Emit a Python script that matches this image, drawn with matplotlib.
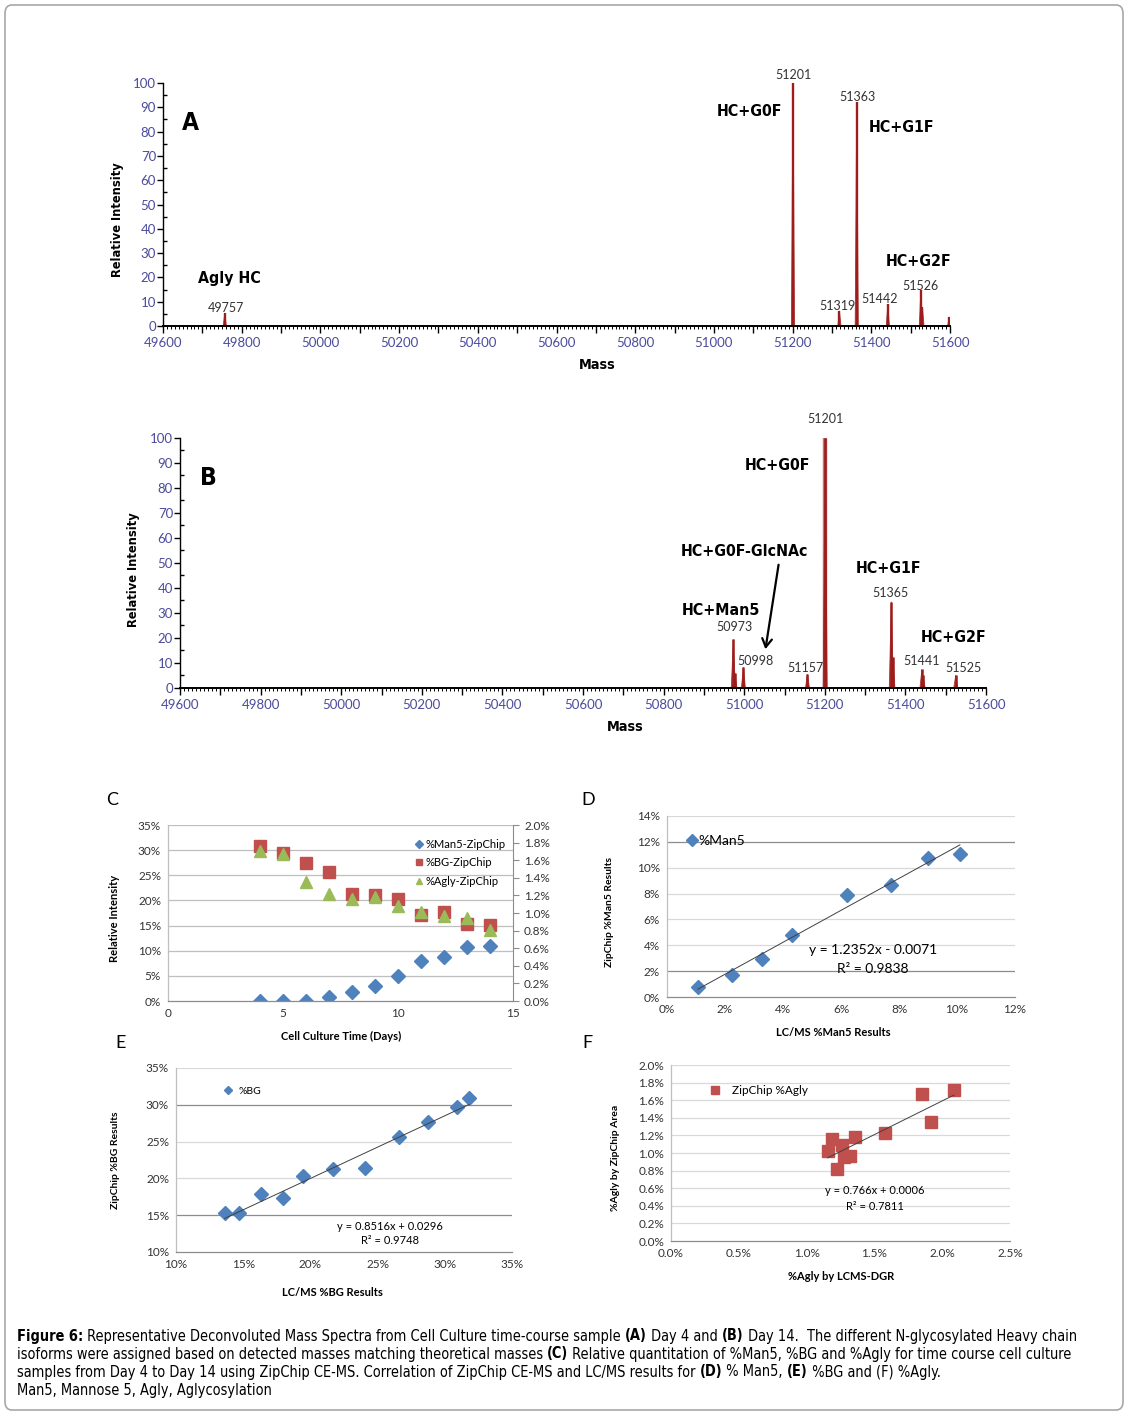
import matplotlib
matplotlib.use("Agg")
import matplotlib.pyplot as plt
from matplotlib import font_manager as fm
from matplotlib.patches import FancyBboxPatch, FancyArrowPatch
from matplotlib.ticker import MultipleLocator, FuncFormatter

# ---------------- data ----------------
# A: deconvoluted spectrum, day 4 (mass, relative intensity)
a_mass = [49757, 51201, 51319, 51363, 51442, 51526, 51530, 51598]
a_int = [5.3, 100, 6.3, 92, 8.9, 14.8, 7.8, 3.8]
a_labels = ["49757", "51201", "51319", "51363", "51442", "51526"]

# B: deconvoluted spectrum, day 14
b_mass = [50973, 50977, 50998, 51157, 51201, 51365, 51369, 51441, 51444, 51525]
b_int = [19.5, 6.1, 8.3, 5.5, 100, 34.5, 12.5, 7.5, 5.0, 5.2]
b_labels = ["50973", "50998", "51157", "51201", "51365", "51441", "51525"]

# C: time course (ZipChip)
days = [4, 5, 6, 7, 8, 9, 10, 11, 12, 13, 14]
man5_zip = [0, 0, 0, 0.86, 1.7, 3.0, 4.9, 7.9, 8.8, 10.8, 11.0]
bg_zip = [30.9, 29.5, 27.4, 25.7, 21.3, 21.0, 20.3, 17.1, 17.7, 15.3, 15.2]
agly_zip = [1.71, 1.67, 1.35, 1.22, 1.16, 1.18, 1.08, 1.01, 0.97, 0.94, 0.81]

# D: %Man5 LC/MS vs ZipChip
d_lcms = [1.06, 2.24, 3.28, 4.31, 6.19, 7.71, 8.99, 10.10]
d_zip = [0.75, 1.67, 2.93, 4.83, 7.92, 8.66, 10.75, 11.05]
d_slope, d_icpt, d_r2 = 1.2352, -0.0071, 0.9838

# E: %BG LC/MS vs ZipChip
e_lcms = [13.62, 14.67, 16.33, 17.94, 19.48, 21.66, 24.04, 26.6, 28.78, 30.89, 31.81]
e_zip = [15.35, 15.35, 17.85, 17.35, 20.39, 21.3, 21.43, 25.65, 27.6, 29.64, 30.96]
e_slope, e_icpt, e_r2 = 0.8516, 0.0296, 0.9748

# F: %Agly LC/MS vs ZipChip
f_lcms = [1.155, 1.19, 1.259, 1.227, 1.273, 1.323, 1.355, 1.581, 1.85, 1.921, 2.086]
f_zip = [1.02, 1.163, 1.087, 0.821, 0.951, 0.966, 1.183, 1.232, 1.669, 1.354, 1.719]
f_slope, f_icpt, f_r2 = 0.766, 0.0006, 0.7811

# ---------------- style ----------------
W, H = 1134, 1421
CAL = ['Lato', 'DejaVu Sans']
plt.rcParams['font.family'] = CAL
PEAK = '#9E1C1C'
TICKC = '#4B4B9B'
BLUE, RED, GREEN = '#4F81BD', '#C0504D', '#9BBB59'

# pick a narrow font if one is installed, otherwise Liberation Sans
_fonts = fm.fontManager.ttflist
_names = {f.name for f in _fonts}
if 'Liberation Sans Narrow' in _names:
    NKW = dict(family=['Liberation Sans Narrow', 'DejaVu Sans'])
elif any(f.name == 'DejaVu Sans' and f.stretch == 'condensed' for f in _fonts):
    NKW = dict(family=['DejaVu Sans'], stretch='condensed')
else:
    NKW = dict(family=['Liberation Sans', 'DejaVu Sans'])

fig = plt.figure(figsize=(W / 100, H / 100), dpi=100)
renderer = fig.canvas.get_renderer()


def rect(x0, y_top, x1, y_bot):
    return [x0 / W, 1 - y_bot / H, (x1 - x0) / W, (y_bot - y_top) / H]


def ftext(x, y, s, **kw):
    kw.setdefault('ha', 'center')
    kw.setdefault('va', 'center')
    return fig.text(x / W, 1 - y / H, s, **kw)


def run_width(s, size, **kw):
    t1 = fig.text(0, 0, '|' + s + '|', fontsize=size, **kw)
    t2 = fig.text(0, 0, '||', fontsize=size, **kw)
    w = t1.get_window_extent(renderer).width - t2.get_window_extent(renderer).width
    t1.remove()
    t2.remove()
    return w


def fit_size(s, target, **kw):
    return 10 * target / run_width(s, 10, **kw)


border = FancyBboxPatch((5 / W, 1 - 1410 / H), 1118 / W, 1405 / H,
                        boxstyle='round,pad=0,rounding_size=0.006',
                        transform=fig.transFigure, fill=False,
                        ec='#A8A8A8', lw=1.2)
fig.add_artist(border)

ANN = fit_size('HC+G0F', 66, weight='bold', **NKW)
MASS = fit_size('Mass', 37, weight='bold', **NKW)
LET = fit_size('A', 17, weight='bold', **NKW)


def spectrum_axes(ax):
    ax.set_xlim(49600, 51600)
    ax.set_ylim(0, 100)
    ax.spines['top'].set_visible(False)
    ax.spines['right'].set_visible(False)
    ax.spines['left'].set_linewidth(1.0)
    ax.spines['bottom'].set_linewidth(1.4)
    ax.xaxis.set_major_locator(MultipleLocator(100))
    ax.xaxis.set_major_formatter(
        FuncFormatter(lambda v, p: f"{v:.0f}" if round(v) % 200 == 0 else ""))
    ax.xaxis.set_minor_locator(MultipleLocator(10))
    ax.yaxis.set_major_locator(MultipleLocator(10))
    ax.yaxis.set_minor_locator(MultipleLocator(5))
    ax.tick_params(axis='x', which='major', direction='out', length=5, width=1,
                   labelcolor=TICKC, labelsize=9.5, pad=3)
    ax.tick_params(axis='x', which='minor', direction='out', length=2.5, width=0.7)
    ax.tick_params(axis='y', which='major', direction='out', length=4, width=1,
                   labelcolor=TICKC, labelsize=9.5, pad=1)
    ax.tick_params(axis='y', which='minor', direction='in', length=3, width=1)


def draw_peaks(ax, mass, inten, half_w, lw):
    for m, h in zip(mass, inten):
        ax.fill([m - half_w, m, m + half_w], [0, h, 0], color=PEAK, lw=0.6, alpha=0.8)
    ax.vlines(mass, 0, inten, color=PEAK, lw=lw)


def bold_n(x, y, s, size=None, **kw):
    return ftext(x, y, s, fontsize=size or ANN, weight='bold', **NKW, **kw)


# ---------------- panel A ----------------
axA = fig.add_axes(rect(163, 83, 950, 326))
spectrum_axes(axA)
draw_peaks(axA, a_mass, a_int, 4, 1.7)
a_lbl_x = [49760, 51201, 51313, 51364, 51420, 51526]
a_lbl_y = [7.4, 103.3, 8.2, 94.2, 11.1, 16.5]
for s, x, y in zip(a_labels, a_lbl_x, a_lbl_y):
    axA.text(x, y, s, ha='center', va='center', fontsize=9, color='#333333', clip_on=False)
bold_n(190, 123, 'A', LET)
bold_n(229, 278, 'Agly HC')
bold_n(750, 111, 'HC+G0F')
bold_n(902, 127, 'HC+G1F')
bold_n(919, 262, 'HC+G2F')
ftext(117, 220, 'Relative Intensity', fontsize=8.3, weight='bold',
      family='DejaVu Sans', rotation=90)
bold_n(597, 365, 'Mass', MASS)

# ---------------- panel B ----------------
axB = fig.add_axes(rect(180, 438, 986, 688))
spectrum_axes(axB)
draw_peaks(axB, b_mass, b_int, 5, 1.8)
axB.vlines([b_mass[4]], 0, [b_int[4]], color=PEAK, lw=3.2, alpha=0.6)
b_lbl_x = [50975, 51029, 51151, 51201, 51364, 51441, 51545]
b_lbl_y = [24.4, 10.8, 8.0, 107.6, 38.0, 10.8, 8.0]
for s, x, y in zip(b_labels, b_lbl_x, b_lbl_y):
    axB.text(x, y, s, ha='center', va='center', fontsize=9, color='#333333', clip_on=False)
bold_n(208, 478, 'B', LET)
bold_n(777, 465, 'HC+G0F')
bold_n(745, 551, 'HC+G0F-GlcNAc')
bold_n(721, 610, 'HC+Man5')
bold_n(889, 569, 'HC+G1F')
bold_n(954, 637, 'HC+G2F')
fig.add_artist(FancyArrowPatch(
    (779 / W, 1 - 562 / H), (765 / W, 1 - 652 / H), transform=fig.transFigure,
    arrowstyle='->,head_length=6,head_width=3.5', lw=1.6, color='black'))
ftext(133, 570, 'Relative Intensity', fontsize=8.3, weight='bold',
      family='DejaVu Sans', rotation=90)
bold_n(625, 727, 'Mass', MASS)


# ---------------- Excel style panels ----------------
def pct(dec):
    return FuncFormatter(lambda v, p: f"{v:.{dec}f}%")


def excel_axes(ax, grid_dark=(), grid_col='#D9D9D9'):
    for s in ['top', 'right']:
        ax.spines[s].set_visible(False)
    ax.spines['left'].set_color('#BFBFBF')
    ax.spines['bottom'].set_color('#8C8C8C')
    ax.spines['left'].set_linewidth(0.9)
    ax.spines['bottom'].set_linewidth(0.9)
    ax.set_axisbelow(True)
    ax.tick_params(axis='both', length=0, labelsize=8.5, labelcolor='#333333', pad=5)
    lo, hi = ax.get_ylim()
    for v in ax.yaxis.get_majorticklocs():
        if v <= lo + 1e-9 or v > hi + 1e-9:
            continue
        col = '#8C8C8C' if any(abs(v - g) < 1e-9 for g in grid_dark) else grid_col
        ax.axhline(v, color=col, lw=0.9, zorder=0)


# C
axC = fig.add_axes(rect(168, 825, 513, 1001))
axC.set_xlim(0, 15)
axC.set_ylim(0, 35)
axC.xaxis.set_major_locator(MultipleLocator(5))
axC.yaxis.set_major_locator(MultipleLocator(5))
axC.yaxis.set_major_formatter(pct(0))
excel_axes(axC, grid_col='#BFBFBF')
hC1, = axC.plot(days, man5_zip, 'D', color=BLUE, ms=7, ls='none', label='%Man5-ZipChip')
hC2, = axC.plot(days, bg_zip, 's', color=RED, ms=8, ls='none', label='%BG-ZipChip')
axC2 = axC.twinx()
axC2.set_ylim(0, 2.0)
axC2.yaxis.set_major_locator(MultipleLocator(0.2))
axC2.yaxis.set_major_formatter(pct(1))
for s in ['top', 'left', 'bottom']:
    axC2.spines[s].set_visible(False)
axC2.spines['right'].set_color('#8C8C8C')
axC2.tick_params(axis='y', length=4, color='#8C8C8C', labelsize=8.5,
                 labelcolor='#333333', pad=4)
hC3, = axC2.plot(days, agly_zip, '^', color=GREEN, ms=8.5, ls='none', label='%Agly-ZipChip')
axC2.legend(handles=[hC1, hC2, hC3], loc='upper left', frameon=False,
            bbox_to_anchor=(409 / W, 1 - 833 / H), bbox_transform=fig.transFigure,
            fontsize=8, markerscale=0.55, handlelength=0.8, handletextpad=0.2,
            labelspacing=0.7, borderpad=0)
ftext(112, 800, 'C', fontsize=13)
ftext(114, 918, 'Relative Intensity', fontsize=8, weight='bold', rotation=90)
ftext(341, 1036, 'Cell Culture Time (Days)', fontsize=8, weight='bold')

# D
axD = fig.add_axes(rect(667, 816, 1015, 997))
axD.set_xlim(0, 12)
axD.set_ylim(0, 14)
axD.xaxis.set_major_locator(MultipleLocator(2))
axD.yaxis.set_major_locator(MultipleLocator(2))
axD.xaxis.set_major_formatter(pct(0))
axD.yaxis.set_major_formatter(pct(0))
excel_axes(axD, grid_dark=(2, 12))
hD, = axD.plot(d_lcms, d_zip, 'D', color=BLUE, ms=7, ls='none', label='%Man5')
d_tx = [min(d_lcms), max(d_lcms)]
axD.plot(d_tx, [d_slope * x + d_icpt * 100 for x in d_tx], color='#404040', lw=0.7)
axD.legend(handles=[hD], loc='center left', frameon=False,
           bbox_to_anchor=(678 / W, 1 - 841 / H), bbox_transform=fig.transFigure,
           fontsize=10, markerscale=0.85, handlelength=1.0, handletextpad=0.0, borderpad=0)
ftext(873, 950, f'y = {d_slope}x - {abs(d_icpt)}', fontsize=10)
ftext(873, 969, f'R² = {d_r2}', fontsize=10)
ftext(588, 800, 'D', fontsize=13)
ftext(609, 912, 'ZipChip %Man5 Results', fontsize=7.5, weight='bold', rotation=90)
ftext(833, 1033, 'LC/MS %Man5 Results', fontsize=8, weight='bold')

# E
axE = fig.add_axes(rect(176, 1068, 512, 1252))
axE.set_xlim(10, 35)
axE.set_ylim(10, 35)
axE.xaxis.set_major_locator(MultipleLocator(5))
axE.yaxis.set_major_locator(MultipleLocator(5))
axE.xaxis.set_major_formatter(pct(0))
axE.yaxis.set_major_formatter(pct(0))
excel_axes(axE, grid_dark=(15, 30))
hE, = axE.plot(e_lcms, e_zip, 'D', color=BLUE, ms=7, ls='none', label='%BG')
e_tx = [min(e_lcms), max(e_lcms)]
axE.plot(e_tx, [e_slope * x + e_icpt * 100 for x in e_tx], color='#404040', lw=0.7)
axE.legend(handles=[hE], loc='center left', frameon=False,
           bbox_to_anchor=(215 / W, 1 - 1091 / H), bbox_transform=fig.transFigure,
           fontsize=7.5, markerscale=0.55, handlelength=1.4, handletextpad=0.4, borderpad=0)
ftext(390, 1226, f'y = {e_slope}x + {e_icpt}', fontsize=8)
ftext(390, 1241, f'R² = {e_r2}', fontsize=8)
ftext(121, 1043, 'E', fontsize=13)
ftext(116, 1160, 'ZipChip %BG Results', fontsize=7.5, weight='bold', rotation=90)
ftext(332, 1292, 'LC/MS %BG Results', fontsize=8, weight='bold')

# F
axF = fig.add_axes(rect(671, 1065, 1010, 1241))
axF.set_xlim(0, 2.5)
axF.set_ylim(0, 2.0)
axF.xaxis.set_major_locator(MultipleLocator(0.5))
axF.yaxis.set_major_locator(MultipleLocator(0.2))
axF.xaxis.set_major_formatter(pct(1))
axF.yaxis.set_major_formatter(pct(1))
excel_axes(axF)
hF, = axF.plot(f_lcms, f_zip, 's', color=RED, ms=8, ls='none', label='ZipChip %Agly')
f_tx = [min(f_lcms), max(f_lcms)]
axF.plot(f_tx, [f_slope * x + f_icpt * 100 for x in f_tx], color='#404040', lw=0.7)
axF.legend(handles=[hF], loc='center left', frameon=False,
           bbox_to_anchor=(700 / W, 1 - 1091 / H), bbox_transform=fig.transFigure,
           fontsize=8.5, markerscale=0.75, handlelength=1.6, handletextpad=0.6, borderpad=0)
ftext(875, 1191, f'y = {f_slope}x + {f_icpt}', fontsize=8)
ftext(875, 1206, f'R² = {f_r2}', fontsize=8)
ftext(587, 1043, 'F', fontsize=13)
ftext(615, 1158, '%Agly by ZipChip Area', fontsize=7.5, weight='bold', rotation=90)
ftext(841, 1276, '%Agly by LCMS-DGR', fontsize=8, weight='bold')

# ---------------- caption ----------------
cap_lines = [
    [("Figure 6:", True),
     (" Representative Deconvoluted Mass Spectra from Cell Culture time-course sample ", False),
     ("(A)", True), (" Day 4 and ", False), ("(B)", True),
     (" Day 14.  The different N-glycosylated Heavy chain", False)],
    [("isoforms were assigned based on detected masses matching theoretical masses ", False),
     ("(C)", True),
     (" Relative quantitation of %Man5, %BG and %Agly for time course cell culture", False)],
    [("samples from Day 4 to Day 14 using ZipChip CE-MS. Correlation of ZipChip CE-MS and LC/MS results for ", False),
     ("(D)", True), (" % Man5, ", False), ("(E)", True), (" %BG and (F) %Agly.", False)],
    [("Man5, Mannose 5, Agly, Aglycosylation", False)],
]


def line_width(parts, size):
    return sum(run_width(s, size, weight='bold' if b else 'normal', **NKW) for s, b in parts)


CAP_SIZE = 10 * 1062 / line_width(cap_lines[0], 10)


def rich_line(y, parts, x0=17):
    x = x0
    for s, bold in parts:
        w = 'bold' if bold else 'normal'
        ftext(x, y, s, ha='left', fontsize=CAP_SIZE, weight=w, **NKW)
        x += run_width(s, CAP_SIZE, weight=w, **NKW)


for i, parts in enumerate(cap_lines):
    rich_line(1336 + 18 * i, parts)

fig.savefig("out.png", dpi=100)
